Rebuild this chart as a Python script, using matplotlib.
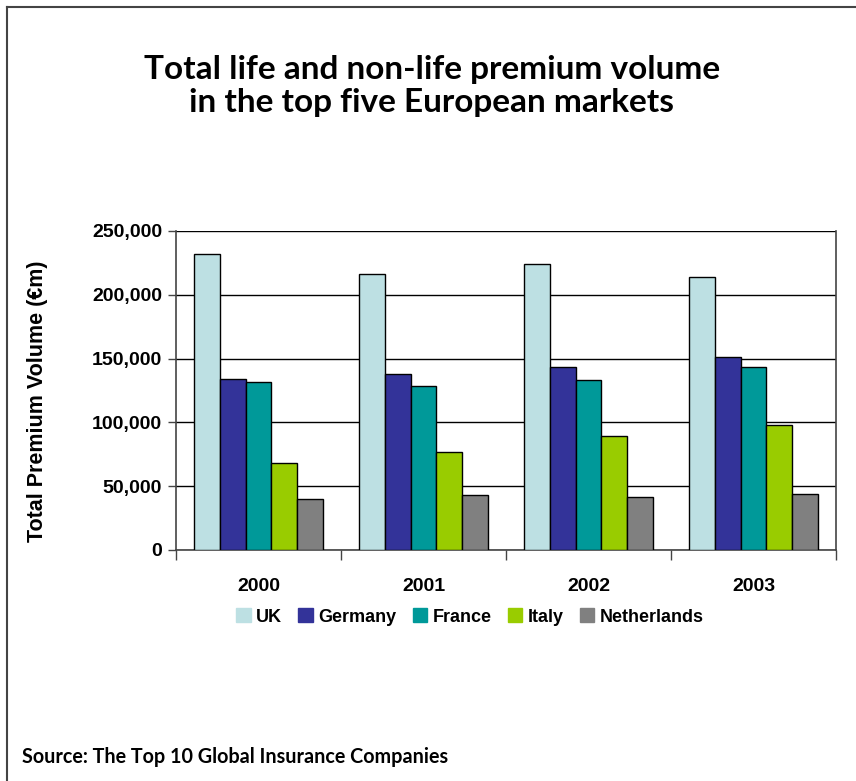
import numpy as np
import matplotlib
matplotlib.use("Agg")
import matplotlib.pyplot as plt
from matplotlib.patches import Rectangle
from matplotlib.lines import Line2D

years = ["2000", "2001", "2002", "2003"]
countries = ["UK", "Germany", "France", "Italy", "Netherlands"]
uk = [232000, 216600, 224500, 214300]
germany = [133800, 137600, 143800, 151100]
france = [131400, 128200, 132900, 143800]
italy = [67900, 76500, 89000, 97600]
netherlands = [39700, 42800, 41500, 43600]
colors = ["#BDE0E3", "#333399", "#009999", "#99CC00", "#808080"]

series = [uk, germany, france, italy, netherlands]

plt.rcParams["font.family"] = ["Liberation Sans", "DejaVu Sans"]
plt.rcParams["font.weight"] = "bold"

fig = plt.figure(figsize=(8.56, 7.81), dpi=100)
ax = fig.add_axes([176 / 856, 231 / 781, 660 / 856, 319 / 781])

x = np.arange(len(years))
w = 0.156
for i, vals in enumerate(series):
    ax.bar(x + (i - 2) * w, vals, width=w, color=colors[i],
           edgecolor="black", linewidth=1.0, label=countries[i], zorder=3)

ax.set_xlim(-0.5, 3.5)
ax.set_ylim(0, 250000)
ax.set_yticks(range(0, 250001, 50000))
ax.set_yticklabels([f"{v:,}" for v in range(0, 250001, 50000)],
                   fontsize=14, fontweight="bold")
ax.yaxis.grid(True, color="black", linewidth=1.0, zorder=0)
ax.set_xticks(np.arange(-0.5, 3.6, 1.0))
ax.set_xticklabels([])
ax.set_xticks(x, minor=True)
ax.set_xticklabels(years, minor=True, fontsize=14, fontweight="bold")
ax.tick_params(axis="x", which="minor", length=0, pad=20)
ax.tick_params(axis="x", which="major", length=7, width=1, color="#444444")
ax.tick_params(axis="y", length=6, width=1, color="#444444", pad=4)
for s in ["left", "bottom", "right"]:
    ax.spines[s].set_color("#444444")
    ax.spines[s].set_linewidth(1.2)
ax.spines["top"].set_visible(False)

fig.text(38 / 856, 1 - 401 / 781, "Total Premium Volume (€m)", rotation=90,
         ha="center", va="center", fontweight="bold", fontsize=15.5)

handles = [Rectangle((0, 0), 1, 1, color=c) for c in colors]
fig.legend(handles, countries, loc="center", bbox_to_anchor=(470 / 856, 1 - 617 / 781),
           ncol=5, frameon=False, handlelength=0.8, handleheight=0.8,
           handletextpad=0.3, columnspacing=0.9,
           prop={"weight": "bold", "size": 13})

fig.text(432 / 856, 1 - 86 / 781,
         "Total life and non-life premium volume\nin the top five European markets",
         ha="center", va="center", fontfamily="Lato", fontweight="bold",
         fontsize=24, linespacing=1.15)

fig.text(22 / 856, 1 - 757 / 781, "Source: The Top 10 Global Insurance Companies",
         ha="left", va="center", fontfamily="Lato", fontweight="bold", fontsize=14.2)

# outer frame (left and top edges)
fig.add_artist(Line2D([7 / 856, 7 / 856], [0, 1 - 7 / 781], transform=fig.transFigure,
                      color="#444444", linewidth=1.5))
fig.add_artist(Line2D([7 / 856, 1], [1 - 7 / 781, 1 - 7 / 781], transform=fig.transFigure,
                      color="#444444", linewidth=1.5))

fig.savefig("out.png", dpi=100)
